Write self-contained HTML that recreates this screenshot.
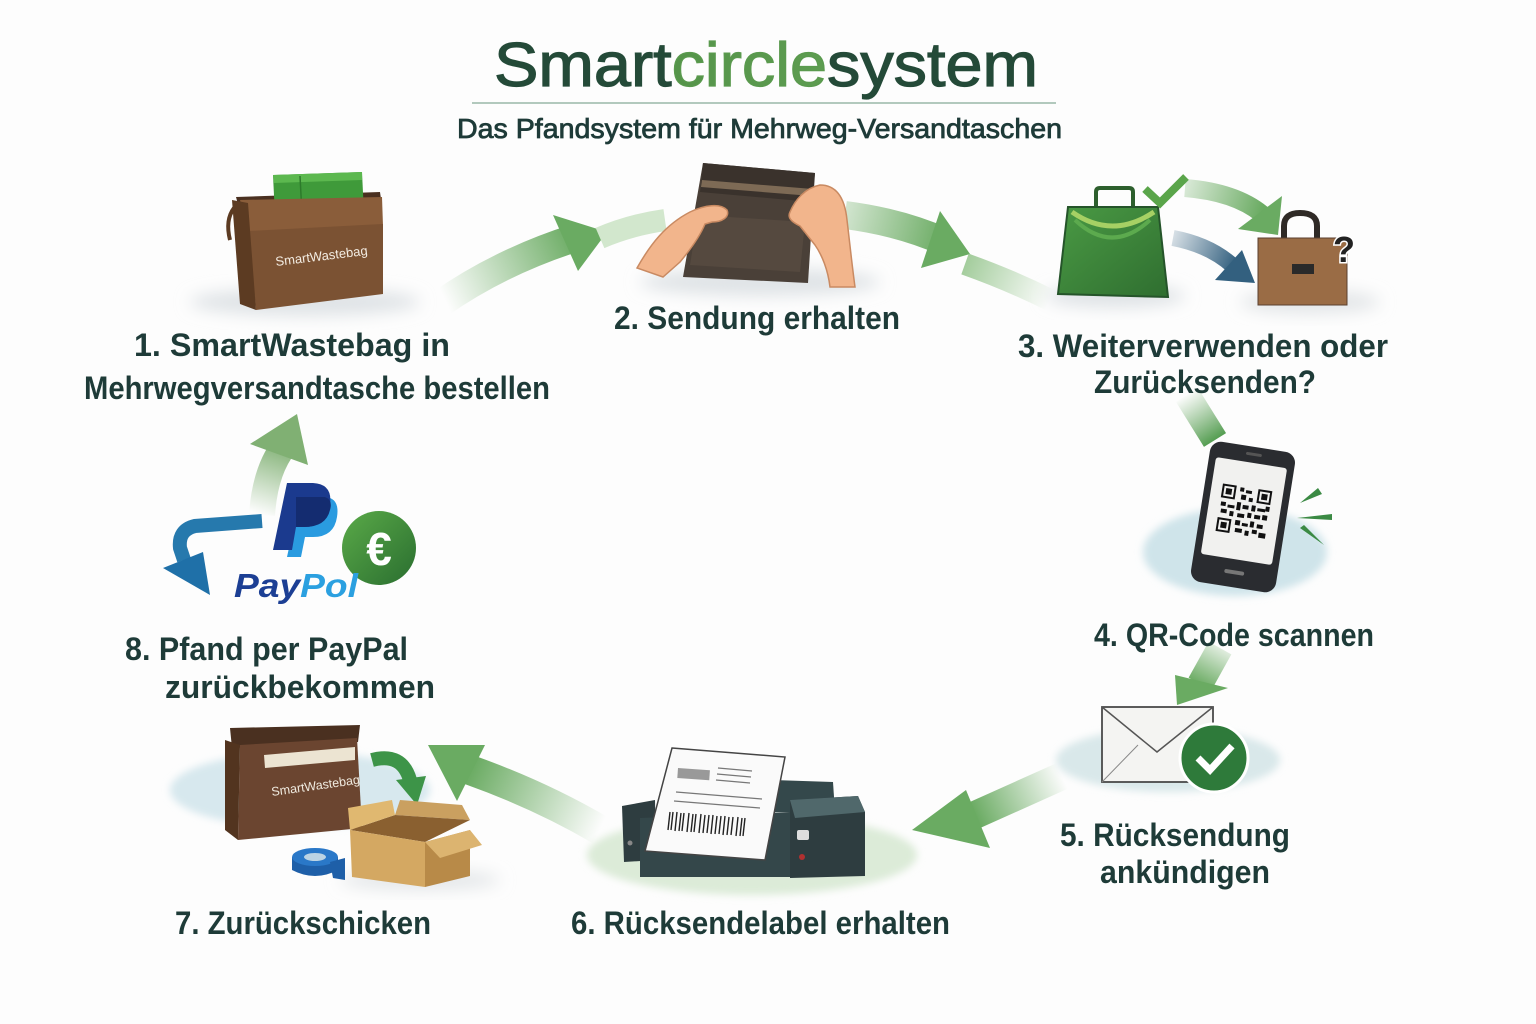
<!DOCTYPE html>
<html><head><meta charset="utf-8"><style>html,body{margin:0;padding:0;background:#fff}svg{display:block}</style></head>
<body>
<svg width="1536" height="1024" viewBox="0 0 1536 1024" xmlns="http://www.w3.org/2000/svg" font-family="Liberation Sans, sans-serif">
<defs>
<filter id="bl" x="-50%" y="-50%" width="200%" height="200%"><feGaussianBlur stdDeviation="8"/></filter>
<filter id="bl4" x="-50%" y="-50%" width="200%" height="200%"><feGaussianBlur stdDeviation="4"/></filter>
<linearGradient id="tc" x1="0" x2="1" y1="0" y2="0"><stop offset="0" stop-color="#4a8a42"/><stop offset="1" stop-color="#6aa85a"/></linearGradient>
<linearGradient id="g12" gradientUnits="userSpaceOnUse" x1="445" y1="300" x2="575" y2="238"><stop offset="0" stop-color="#6aab62" stop-opacity="0"/><stop offset="1" stop-color="#6aab62"/></linearGradient>
<linearGradient id="g23" gradientUnits="userSpaceOnUse" x1="845" y1="215" x2="945" y2="240"><stop offset="0" stop-color="#6aab62" stop-opacity="0.3"/><stop offset="1" stop-color="#6aab62"/></linearGradient>
<linearGradient id="g23b" gradientUnits="userSpaceOnUse" x1="965" y1="262" x2="1050" y2="300"><stop offset="0" stop-color="#8cc083" stop-opacity="0.8"/><stop offset="1" stop-color="#8cc083" stop-opacity="0"/></linearGradient>
<linearGradient id="g34" gradientUnits="userSpaceOnUse" x1="1185" y1="395" x2="1215" y2="442"><stop offset="0" stop-color="#5ea057" stop-opacity="0"/><stop offset="1" stop-color="#4f9a4c"/></linearGradient>
<linearGradient id="g45" gradientUnits="userSpaceOnUse" x1="1220" y1="648" x2="1200" y2="685"><stop offset="0" stop-color="#6aab62" stop-opacity="0.2"/><stop offset="1" stop-color="#6aab62"/></linearGradient>
<linearGradient id="g56" gradientUnits="userSpaceOnUse" x1="1062" y1="776" x2="975" y2="815"><stop offset="0" stop-color="#6aab62" stop-opacity="0"/><stop offset="1" stop-color="#6aab62"/></linearGradient>
<linearGradient id="g67" gradientUnits="userSpaceOnUse" x1="600" y1="830" x2="470" y2="770"><stop offset="0" stop-color="#6aab62" stop-opacity="0"/><stop offset="1" stop-color="#6aab62"/></linearGradient>
<linearGradient id="g81" gradientUnits="userSpaceOnUse" x1="262" y1="515" x2="285" y2="445"><stop offset="0" stop-color="#80b073" stop-opacity="0"/><stop offset="1" stop-color="#80b073"/></linearGradient>
<linearGradient id="g3g" gradientUnits="userSpaceOnUse" x1="1185" y1="188" x2="1262" y2="212"><stop offset="0" stop-color="#6aab62" stop-opacity="0.25"/><stop offset="1" stop-color="#6aab62"/></linearGradient>
<linearGradient id="g3b" gradientUnits="userSpaceOnUse" x1="1173" y1="238" x2="1235" y2="265"><stop offset="0" stop-color="#33607f" stop-opacity="0.2"/><stop offset="1" stop-color="#33607f"/></linearGradient>
<linearGradient id="eur" x1="0" y1="0" x2="1" y2="1"><stop offset="0" stop-color="#5aaa48"/><stop offset="1" stop-color="#2a6e30"/></linearGradient>
<linearGradient id="gbag" x1="0" y1="0" x2="1" y2="1"><stop offset="0" stop-color="#4a9a44"/><stop offset="1" stop-color="#2f6e30"/></linearGradient>
</defs>

<rect width="1536" height="1024" fill="#fdfdfd"/>

<!-- Title -->
<text x="494" y="86" font-size="62" fill="#244a38" stroke="#244a38" stroke-width="1.2" textLength="544" lengthAdjust="spacingAndGlyphs">Smart<tspan fill="url(#tc)" stroke="#5a9a4e">circle</tspan>system</text>
<line x1="472" y1="103" x2="1056" y2="103" stroke="#9ab8a8" stroke-width="1.6"/>
<text x="457" y="138" font-size="28" fill="#1e3b38" stroke="#1e3b38" stroke-width="0.8" textLength="605" lengthAdjust="spacingAndGlyphs">Das Pfandsystem für Mehrweg-Versandtaschen</text>

<!-- Soft backgrounds -->
<ellipse cx="305" cy="302" rx="115" ry="14" fill="#dfe3e6" filter="url(#bl)"/>
<ellipse cx="760" cy="282" rx="120" ry="14" fill="#dfe3e6" filter="url(#bl)"/>
<ellipse cx="1115" cy="296" rx="70" ry="12" fill="#dfe3e6" filter="url(#bl)"/>
<ellipse cx="1310" cy="302" rx="70" ry="12" fill="#e3e6e8" filter="url(#bl)"/>
<ellipse cx="1235" cy="552" rx="92" ry="44" fill="#cfe4ea" filter="url(#bl4)"/>
<ellipse cx="1168" cy="760" rx="112" ry="32" fill="#d9e8ea" filter="url(#bl4)"/>
<ellipse cx="752" cy="855" rx="165" ry="40" fill="#dcebd8" filter="url(#bl4)"/>
<ellipse cx="300" cy="790" rx="130" ry="38" fill="#d7e8ee" filter="url(#bl4)"/>
<ellipse cx="420" cy="880" rx="80" ry="10" fill="#e3e6e8" filter="url(#bl)"/>

<!-- Arrows -->
<path d="M440,304 Q500,262 575,238" stroke="url(#g12)" stroke-width="28" fill="none"/>
<polygon points="553,215 607,232 578,271" fill="#6aab62"/>
<path d="M600,238 Q630,225 665,220" stroke="#d2e7cd" stroke-width="22" fill="none"/>

<path d="M845,215 Q900,222 945,242" stroke="url(#g23)" stroke-width="28" fill="none"/>
<polygon points="940,211 970,254 921,268" fill="#6aab62"/>
<path d="M965,264 Q1010,280 1050,300" stroke="url(#g23b)" stroke-width="22" fill="none"/>

<path d="M1187,395 L1215,440" stroke="url(#g34)" stroke-width="26" fill="none"/>

<path d="M1220,648 L1200,684" stroke="url(#g45)" stroke-width="26" fill="none"/>
<polygon points="1175,675 1228,688 1177,705" fill="#6aab62"/>

<path d="M1062,776 Q1020,795 975,815" stroke="url(#g56)" stroke-width="28" fill="none"/>
<polygon points="912,830 966,790 990,848" fill="#6aab62"/>

<path d="M600,830 Q540,795 470,770" stroke="url(#g67)" stroke-width="30" fill="none"/>
<polygon points="428,745 485,745 457,801" fill="#6aab62"/>

<path d="M262,515 Q265,470 285,445" stroke="url(#g81)" stroke-width="26" fill="none"/>
<polygon points="250,444 297,414 308,465" fill="#80b073"/>

<!-- 1: Smartwastebag with green box -->
<polygon points="236,197 380,192 382,206 240,212" fill="#4a3020"/>
<polygon points="273,175 362,172 364,214 275,216" fill="#3f9a3a"/>
<polygon points="273,175 362,172 362,180 274,183" fill="#5cb84f"/>
<line x1="300" y1="176" x2="302" y2="214" stroke="#2d7a2b" stroke-width="1.5"/>
<polygon points="240,200 382,197 383,226 248,233" fill="#8a5d3a"/>
<polygon points="248,231 383,224 383,294 256,310" fill="#7b5233"/>
<polygon points="232,200 248,203 256,310 240,304" fill="#5c3b22"/>
<path d="M234,208 Q225,220 230,240" stroke="#5c3b22" stroke-width="4" fill="none"/>
<text x="276" y="266" font-size="13" fill="#f3ece2" transform="rotate(-7 276 266)">SmartWastebag</text>

<!-- 2: Pouch with hands -->
<polygon points="703,163 815,173 808,283 683,277" fill="#4a4038"/>
<polygon points="703,163 815,173 812,202 700,192" fill="#3a322c"/>
<polygon points="702,180 813,189 812,196 701,187" fill="#7d6a55"/>
<polygon points="698,215 805,222 800,272 690,265" fill="#55493f"/>
<path d="M637,268 C650,245 665,225 690,212 C705,205 720,203 727,210 C730,217 722,222 712,222 L705,224 C700,236 690,250 680,262 L663,277 Z" fill="#f2b58c" stroke="#c98a62" stroke-width="1.5"/>
<path d="M790,212 C795,200 805,188 820,185 C838,185 845,200 847,220 C850,245 852,265 855,287 L830,287 C828,270 822,255 815,245 L800,226 C792,222 787,218 790,212 Z" fill="#f2b58c" stroke="#c98a62" stroke-width="1.5"/>

<!-- 3: green bag, arrows, brown bag -->
<path d="M1096,207 L1096,192 Q1096,188 1100,188 L1129,188 Q1133,188 1133,192 L1133,207" stroke="#2d5f2d" stroke-width="4" fill="none"/>
<polygon points="1068,207 1158,207 1168,297 1058,294" fill="url(#gbag)" stroke="#25542a" stroke-width="2"/>
<path d="M1072,212 Q1112,240 1154,212" stroke="#a6d064" stroke-width="5" fill="none"/>
<path d="M1075,220 Q1112,255 1150,220" stroke="#5caa4e" stroke-width="4" fill="none"/>
<polyline points="1145,189 1160,203 1186,177" stroke="#5aa54a" stroke-width="8" fill="none"/>
<path d="M1185,188 Q1235,192 1262,214" stroke="url(#g3g)" stroke-width="18" fill="none"/>
<polygon points="1238,229 1282,196 1278,235" fill="#6aab62"/>
<path d="M1173,238 Q1210,245 1233,266" stroke="url(#g3b)" stroke-width="16" fill="none"/>
<polygon points="1215,280 1242,250 1255,283" fill="#33607f"/>
<path d="M1284,240 L1284,226 Q1284,213 1300,213 Q1317,213 1317,226 L1317,240" stroke="#2f2a26" stroke-width="6" fill="none"/>
<rect x="1258" y="238" width="89" height="67" fill="#9a6c45" stroke="#5a4030" stroke-width="1"/>
<rect x="1292" y="264" width="22" height="10" fill="#2a2a2a"/>
<text x="1333" y="262" font-size="36" font-weight="bold" fill="#222" stroke="#fff" stroke-width="3" paint-order="stroke">?</text>

<!-- 4: Phone -->
<g transform="rotate(9 1243 517)">
<rect x="1200" y="446" width="86" height="142" rx="11" fill="#2a2c30"/>
<rect x="1207" y="462" width="72" height="98" rx="3" fill="#f1f1ef"/>
<rect x="1236" y="452" width="16" height="3" rx="1.5" fill="#555"/>
<rect x="1233" y="571" width="20" height="4" rx="2" fill="#777"/>
<g fill="#111">
<rect x="1218" y="487" width="14" height="14"/><rect x="1254" y="487" width="14" height="14"/><rect x="1218" y="521" width="14" height="14"/>
</g>
<g fill="#f1f1ef"><rect x="1220" y="489" width="10" height="10"/><rect x="1256" y="489" width="10" height="10"/><rect x="1220" y="523" width="10" height="10"/></g>
<g fill="#111"><rect x="1222" y="491" width="6" height="6"/><rect x="1258" y="491" width="6" height="6"/><rect x="1222" y="525" width="6" height="6"/>
<rect x="1236" y="488" width="4" height="4"/><rect x="1242" y="490" width="6" height="3"/><rect x="1238" y="495" width="5" height="5"/><rect x="1246" y="497" width="4" height="4"/>
<rect x="1219" y="505" width="5" height="4"/><rect x="1226" y="507" width="7" height="3"/><rect x="1235" y="503" width="4" height="8"/><rect x="1241" y="505" width="6" height="4"/><rect x="1250" y="504" width="4" height="6"/><rect x="1256" y="506" width="8" height="3"/><rect x="1264" y="503" width="4" height="5"/>
<rect x="1220" y="512" width="6" height="4"/><rect x="1229" y="513" width="4" height="5"/><rect x="1237" y="514" width="7" height="4"/><rect x="1247" y="512" width="4" height="5"/><rect x="1254" y="513" width="6" height="4"/><rect x="1262" y="512" width="5" height="5"/>
<rect x="1236" y="521" width="5" height="5"/><rect x="1243" y="523" width="6" height="3"/><rect x="1251" y="520" width="4" height="6"/><rect x="1258" y="522" width="6" height="4"/>
<rect x="1237" y="529" width="7" height="4"/><rect x="1247" y="530" width="4" height="5"/><rect x="1254" y="528" width="5" height="4"/><rect x="1261" y="530" width="7" height="5"/></g>
</g>
<polygon points="1300,503 1318,488 1322,494" fill="#3b8a44"/>
<polygon points="1297,518 1332,514 1332,520" fill="#3b8a44"/>
<polygon points="1300,528 1304,525 1324,545" fill="#3b8a44"/>

<!-- 5: Envelope -->
<rect x="1102" y="707" width="111" height="75" fill="#f4f4f2" stroke="#4a4a4a" stroke-width="1.8"/>
<polyline points="1102,707 1157,752 1213,707" fill="none" stroke="#555" stroke-width="1.5"/>
<line x1="1102" y1="782" x2="1138" y2="745" stroke="#888" stroke-width="1"/>
<circle cx="1214" cy="758" r="34" fill="#2e7a3a" stroke="#fff" stroke-width="3"/>
<polyline points="1198,758 1210,770 1232,746" fill="none" stroke="#fff" stroke-width="7"/>

<!-- 6: Printer -->
<polygon points="773,780 833,782 835,812 773,812" fill="#34484b"/>
<polygon points="622,806 655,800 656,860 624,862" fill="#2e3d40"/>
<polygon points="640,818 790,812 790,877 640,877" fill="#34474a"/>
<polygon points="790,800 858,796 865,812 865,876 790,878" fill="#2e3d40"/>
<polygon points="790,800 858,796 865,812 795,818" fill="#50686b"/>
<circle cx="630" cy="843" r="2.5" fill="#888"/>
<rect x="797" y="830" width="12" height="10" rx="2" fill="#ddd"/>
<circle cx="802" cy="857" r="3" fill="#b03030"/>
<polygon points="672,748 785,757 765,860 645,851" fill="#fafafa" stroke="#444" stroke-width="1.5"/>
<rect x="678" y="768" width="32" height="10" fill="#999" transform="rotate(4 678 768)"/>
<g stroke="#777" stroke-width="1.3">
<line x1="718" y1="768" x2="752" y2="771"/><line x1="717" y1="774" x2="751" y2="777"/><line x1="716" y1="780" x2="750" y2="783"/>
<line x1="676" y1="792" x2="762" y2="799"/><line x1="674" y1="801" x2="760" y2="808"/>
</g>
<g stroke="#222" stroke-width="1.4">
<line x1="670" y1="812" x2="668" y2="830"/><line x1="673" y1="812" x2="671" y2="830"/><line x1="677" y1="812" x2="675" y2="831"/><line x1="681" y1="813" x2="679" y2="831"/><line x1="684" y1="813" x2="682" y2="831"/><line x1="689" y1="813" x2="687" y2="832"/><line x1="693" y1="814" x2="691" y2="832"/><line x1="696" y1="814" x2="694" y2="832"/><line x1="701" y1="814" x2="699" y2="833"/><line x1="705" y1="815" x2="703" y2="833"/><line x1="709" y1="815" x2="707" y2="833"/><line x1="713" y1="815" x2="711" y2="834"/><line x1="717" y1="816" x2="715" y2="834"/><line x1="721" y1="816" x2="719" y2="834"/><line x1="725" y1="816" x2="723" y2="835"/><line x1="729" y1="817" x2="727" y2="835"/><line x1="733" y1="817" x2="731" y2="835"/><line x1="738" y1="817" x2="736" y2="836"/><line x1="742" y1="818" x2="740" y2="836"/><line x1="745" y1="818" x2="743" y2="836"/>
</g>

<!-- 7: bag, box, tape -->
<polygon points="230,728 360,725 358,742 232,748" fill="#4a3020"/>
<polygon points="240,745 357,738 362,828 238,840" fill="#6b4530"/>
<polygon points="225,740 240,745 238,840 225,830" fill="#52341f"/>
<polygon points="264,755 355,747 355,760 265,768" fill="#ece4d2"/>
<text x="272" y="796" font-size="12.5" fill="#f0ebe0" transform="rotate(-8 272 796)">SmartWastebag</text>
<path d="M372,760 Q402,752 410,780" stroke="#3d9448" stroke-width="14" fill="none"/>
<polygon points="396,780 426,776 417,805" fill="#3d9448"/>
<polygon points="395,815 400,800 462,805 470,820" fill="#caa060"/>
<polygon points="350,830 395,815 470,820 425,842" fill="#8a6030"/>
<polygon points="350,830 348,808 392,800 395,815" fill="#e0b870"/>
<polygon points="350,830 425,842 425,887 352,877" fill="#d4a862"/>
<polygon points="425,842 470,830 470,876 425,887" fill="#b88a48"/>
<polygon points="425,842 470,830 482,845 440,858" fill="#dcb470"/>
<path d="M292,857 L292,870 Q315,882 338,870 L338,857" fill="#1e5fa8"/>
<ellipse cx="315" cy="857" rx="23" ry="9" fill="#2a78c8"/>
<ellipse cx="315" cy="857" rx="11" ry="4" fill="#bcd4e4"/>
<polygon points="330,862 345,858 345,880 333,878" fill="#1e5fa8"/>

<!-- 8: PayPal -->
<path d="M262,521 L195,526 Q178,530 180,548 L184,560" stroke="#2679ad" stroke-width="14" fill="none"/>
<polygon points="163,568 203,552 210,595" fill="#1f70a8"/>
<path d="M300,497 L325,497 Q340,498 337,517 Q334,537 313,537 L305,537 L301,557 L287,557 Z" fill="#2a9be0"/>
<path d="M287,483 L313,483 Q333,484 330,505 Q326,527 304,527 L296,527 L292,550 L273,550 Z" fill="#1b3a8e"/>
<path d="M296,497 L325,497 Q333,500 330,510 Q326,527 304,527 L296,527 Z" fill="#142c70"/>
<circle cx="379" cy="548" r="37" fill="url(#eur)"/>
<text x="379" y="565" font-size="46" font-weight="bold" fill="#fff" text-anchor="middle">€</text>
<text x="234" y="597" font-size="33" font-weight="bold" font-style="italic" fill="#1c3f94" textLength="124" lengthAdjust="spacingAndGlyphs">Pay<tspan fill="#2ba0e0">Pol</tspan></text>

<!-- Labels -->
<g fill="#1e3b38" font-weight="bold" font-size="32">
<text x="134" y="356" textLength="316" lengthAdjust="spacingAndGlyphs">1. SmartWastebag in</text>
<text x="84" y="399" textLength="466" lengthAdjust="spacingAndGlyphs">Mehrwegversandtasche bestellen</text>
<text x="614" y="329" textLength="286" lengthAdjust="spacingAndGlyphs">2. Sendung erhalten</text>
<text x="1018" y="357" textLength="370" lengthAdjust="spacingAndGlyphs">3. Weiterverwenden oder</text>
<text x="1094" y="393" textLength="222" lengthAdjust="spacingAndGlyphs">Zurücksenden?</text>
<text x="1094" y="646" textLength="280" lengthAdjust="spacingAndGlyphs">4. QR-Code scannen</text>
<text x="1060" y="846" textLength="230" lengthAdjust="spacingAndGlyphs">5. Rücksendung</text>
<text x="1100" y="883" textLength="170" lengthAdjust="spacingAndGlyphs">ankündigen</text>
<text x="571" y="934" textLength="379" lengthAdjust="spacingAndGlyphs">6. Rücksendelabel erhalten</text>
<text x="175" y="934" textLength="256" lengthAdjust="spacingAndGlyphs">7. Zurückschicken</text>
<text x="125" y="660" textLength="283" lengthAdjust="spacingAndGlyphs">8. Pfand per PayPal</text>
<text x="165" y="698" textLength="270" lengthAdjust="spacingAndGlyphs">zurückbekommen</text>
</g>
</svg>
</body></html>
